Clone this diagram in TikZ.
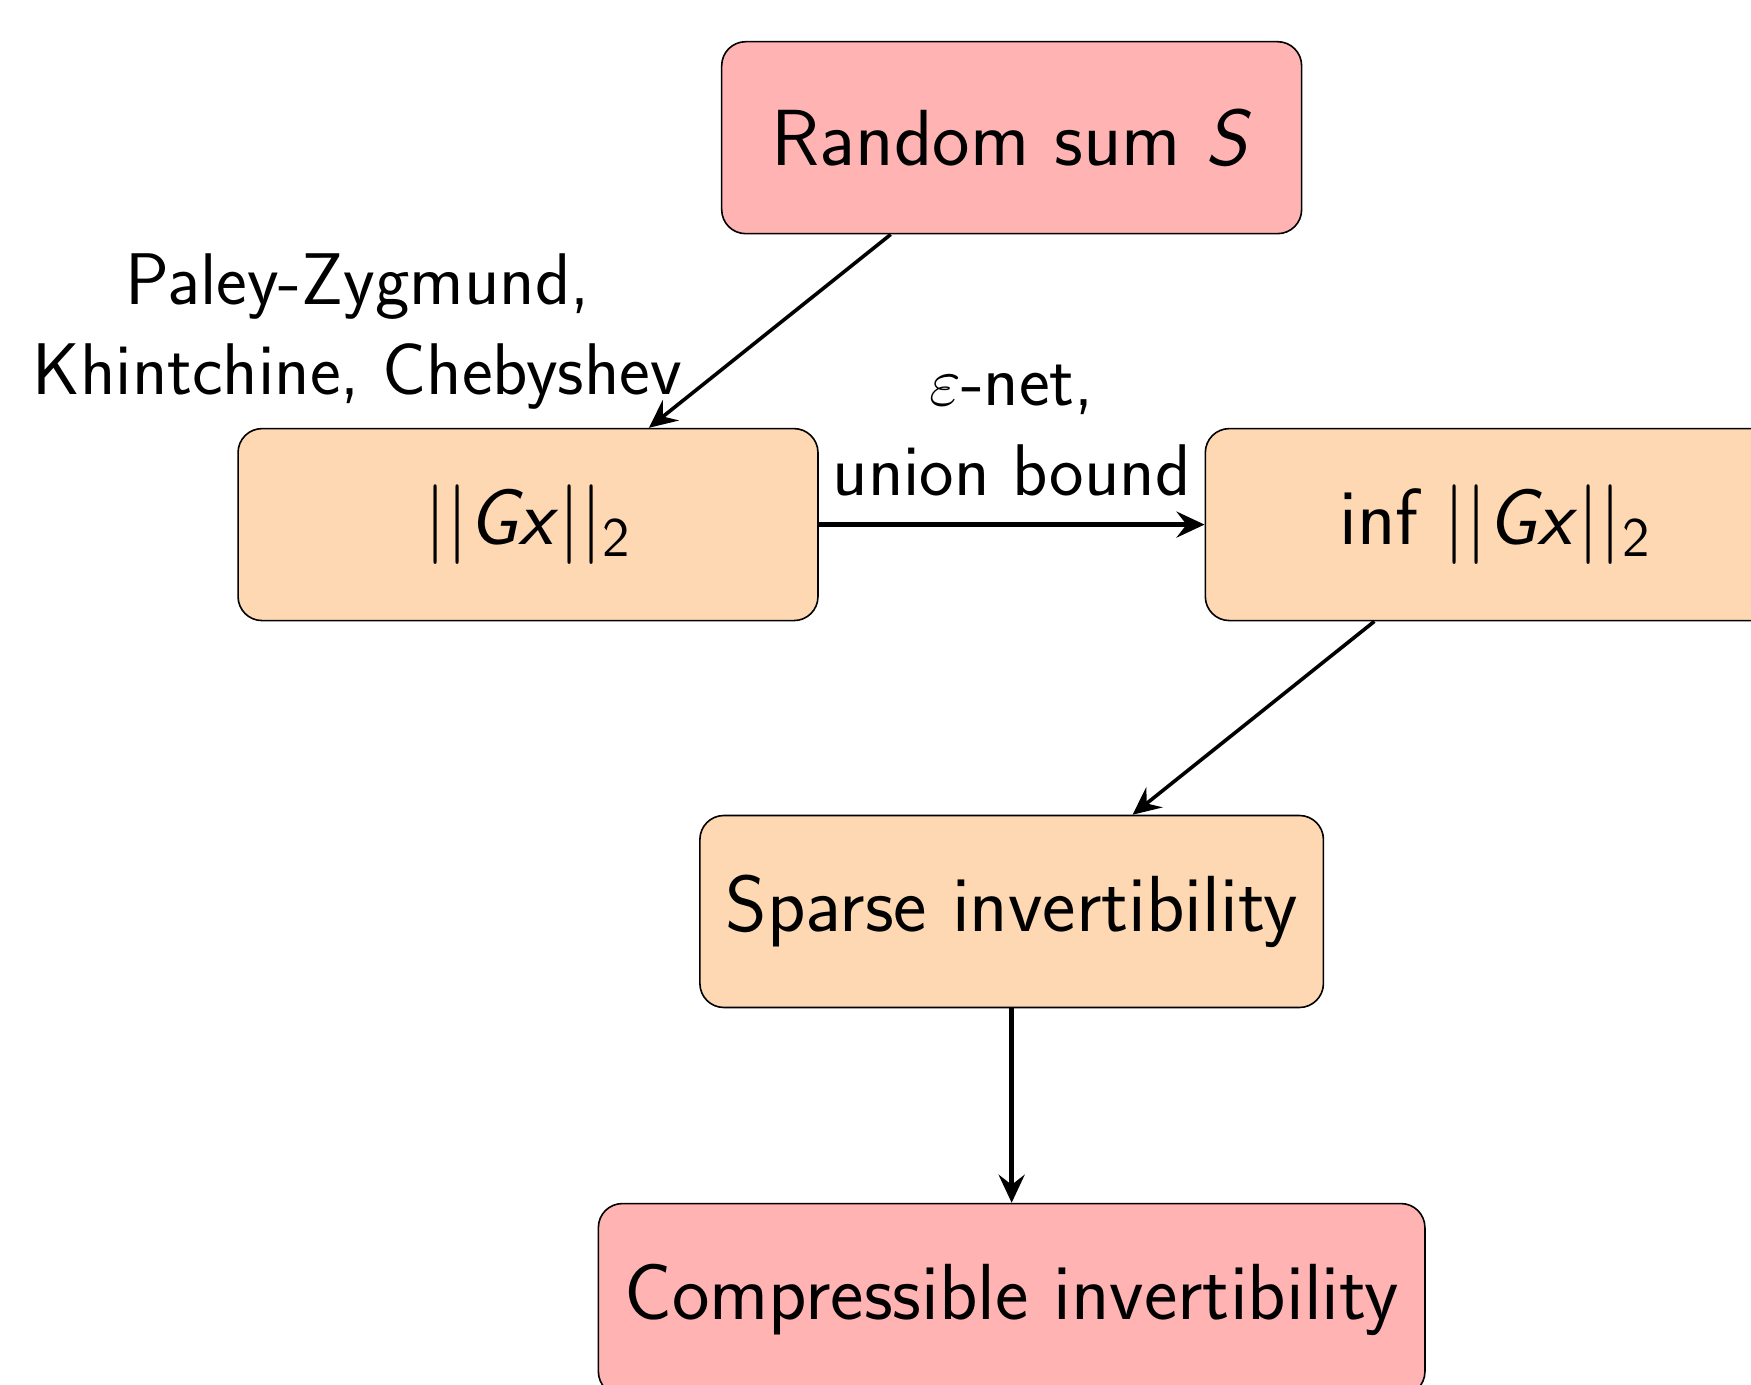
\documentclass[tikz,border=0pt]{standalone}
\usepackage{fontspec}
\usetikzlibrary{arrows.meta,positioning}
\definecolor{sumred}{RGB}{255,179,179}
\definecolor{normorange}{RGB}{253,216,178}

\begin{document}
\begin{tikzpicture}[
    font=\sffamily\fontsize{18.3}{22.5}\selectfont,
    redbox/.style={draw, rounded corners=6pt, fill=sumred, minimum width=145pt,
        minimum height=48pt, inner xsep=6.5pt,
        font=\sffamily\fontsize{19.9}{24}\selectfont},
    orangebox/.style={redbox, fill=normorange},
    thinarrow/.style={-{Stealth[length=7pt,width=6.5pt,inset=2.5pt]}, line width=0.9pt},
    thickarrow/.style={thinarrow, line width=1.4pt},
    lbl/.style={align=center}
    ]

    % Page is 1751x1385px, 4px is 1pt.
    \useasboundingbox (0,0) rectangle (15.387,-12.171);

    % Boxes, 3.4 apart top to bottom.
    \node[redbox] (sum) at (8.89,-1.21) {Random sum \textit{S}};
    \node[orangebox] (gx) at (4.64,-4.61)
        {\textbar\textbar\textit{Gx}\textbar\textbar\textsubscript{2}};
    \node[orangebox] (inf) at (13.14,-4.61)
        {inf \textbar\textbar\textit{Gx}\textbar\textbar\textsubscript{2}};
    \node[orangebox] (sparse) at (8.89,-8.01) {Sparse invertibility};
    \node[redbox] (comp) at (8.89,-11.42) {Compressible invertibility};

    % Arrows
    \draw[thinarrow] (sum) -- node[lbl, left=0.64cm] (pzlabel)
        {Paley-Zygmund,\\Khintchine, Chebyshev} (gx);
    \draw[thickarrow] (gx) -- node[lbl, above=3pt] (netlabel)
        {$\varepsilon$-net,\\union bound} (inf);
    \draw[thinarrow] (inf) -- (sparse);
    \draw[thickarrow] (sparse) -- (comp);

\end{tikzpicture}
\end{document}
